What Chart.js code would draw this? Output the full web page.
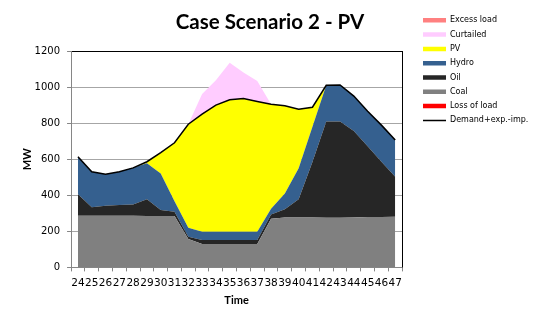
<!DOCTYPE html>
<html>
<head>
<meta charset="utf-8">
<title>Case Scenario 2 - PV</title>
<script src="https://cdn.jsdelivr.net/npm/chart.js@4.4.0/dist/chart.umd.min.js"></script>
<style>
    html, body { margin: 0; padding: 0; background: #fff; }
    #wrap { width: 539px; height: 324px; position: relative; }
</style>
</head>
<body>
<div id="wrap"><canvas id="case_chart"></canvas></div>
<script>
/*
*  Case Scenario 2 - PV : stacked generation areas + demand line
*/

const hours = ['24','25','26','27','28','29','30','31','32','33','34','35',
               '36','37','38','39','40','41','42','43','44','45','46','47'];

// MW per hour
const lossOfLoad = [0,0,0,0,0,0,0,0,0,0,0,0,0,0,0,0,0,0,0,0,0,0,0,0];
const coal      = [286,286,286,286,286,285,285,285,157,130,130,130,130,130,270,277,277,277,276,276,277,279,280,281];
const oil       = [120,47,56,60,63,93,33,24,13,22,22,22,22,22,23,45,101,308,533,533,480,393,306,222];
const hydro     = [207,197,175,184,203,199,203,58,50,46,46,46,46,46,32,88,172,195,201,203,193,194,203,203];
const pv        = [0,0,0,0,0,9,115,324,574,652,702,732,738,722,580,486,327,108,0,0,0,0,0,0];
const curtailed = [0,0,0,0,0,0,0,0,0,112,138,205,145,113,0,0,0,0,0,0,0,0,0,0];
const excessLoad = [0,0,0,0,0,0,0,0,0,0,0,0,0,0,0,0,0,0,0,0,0,0,0,0];
const demand    = [613,530,517,530,552,586,636,691,794,850,900,930,936,920,905,896,877,888,1010,1012,950,866,789,706];

const yTicks = [0, 200, 400, 600, 800, 1000, 1200];

const legendOrder = ['Excess load','Curtailed','PV','Hydro','Oil','Coal','Loss of load','Demand+exp.-imp.'];

const LEGEND_GAP = 14.6;   // white space between plot frame and legend

// widen the legend box on its left side and draw the black right frame of the plot
const frameAndGap = {
    id: 'frameAndGap',
    afterInit(chart) {
        let legend = chart.legend;
        let fitLegend = legend.fit.bind(legend);
        legend.fit = function () { fitLegend(); this.width += LEGEND_GAP; };
    },
    afterLayout(chart) {
        chart.legend.left += LEGEND_GAP;
    },
    afterDatasetsDraw(chart) {
        let area = chart.chartArea;
        let ctx = chart.ctx;
        let x = Math.round(area.right) + 0.5;
        ctx.save();
        ctx.strokeStyle = '#000';
        ctx.lineWidth = 1;
        ctx.beginPath();
        ctx.moveTo(x, area.top);
        ctx.lineTo(x, area.bottom);
        ctx.stroke();
        ctx.restore();
    },
};

function areaSet(label, data, color, fill) {
    return {
        label: label,
        data: data,
        backgroundColor: color,
        borderColor: color,
        borderWidth: 0,
        pointRadius: 0,
        pointHoverRadius: 0,
        pointStyle: 'rect',
        fill: fill,
        tension: 0,
    };
}

function makeChart(canvas) {
    let axisGrey = '#868686';
    let tickFont = { family: 'DejaVu Sans', size: 10 };
    let titleFont = { family: 'Lato', size: 11, weight: 'bold' };
    let chartConfig = {
        type: 'line',
        data: {
            labels: hours,
            datasets: [
                areaSet('Loss of load', lossOfLoad, '#ff0000', 'origin'),
                areaSet('Coal', coal, '#808080', '-1'),
                areaSet('Oil', oil, '#262626', '-1'),
                areaSet('Hydro', hydro, '#35608f', '-1'),
                areaSet('PV', pv, '#ffff00', '-1'),
                areaSet('Curtailed', curtailed, '#ffccff', '-1'),
                areaSet('Excess load', excessLoad, '#ff8080', '-1'),
                {
                    label: 'Demand+exp.-imp.',
                    data: demand,
                    stack: 'demand',
                    borderColor: '#000',
                    backgroundColor: '#000',
                    borderWidth: 1.5,
                    pointRadius: 0,
                    pointHoverRadius: 0,
                    pointStyle: 'line',
                    fill: false,
                    tension: 0,
                    order: -1,
                },
            ],
        },
        options: {
            responsive: true,
            maintainAspectRatio: false,
            animation: false,
            layout: { padding: { top: 10, left: 1.7, right: 0.7, bottom: 13.4 } },
            scales: {
                x: {
                    offset: true,
                    grid: { offset: true, drawOnChartArea: false, tickLength: 4, color: axisGrey },
                    border: { color: axisGrey },
                    ticks: {
                        autoSkip: false, maxRotation: 0, minRotation: 0, padding: 6,
                        font: { family: 'DejaVu Sans', size: 10.5 }, color: '#000',
                    },
                    title: { display: true, text: 'Time', font: titleFont, color: '#000',
                             padding: { top: -2.6, bottom: 4 } },
                },
                y: {
                    stacked: true,
                    min: yTicks[0],
                    max: yTicks[yTicks.length - 1],
                    afterBuildTicks: (scale) => { scale.ticks = yTicks.map(v => ({ value: v })); },
                    grid: {
                        color: (ctx) => (ctx.tick && ctx.tick.value === 1200) ? '#000' : '#a6a6a6',
                        tickColor: axisGrey,
                        tickLength: 4,
                    },
                    border: { color: axisGrey },
                    ticks: { padding: 7, font: tickFont, color: '#000', callback: (v) => String(v) },
                    // chart.js reserves the tick padding twice, the negative bottom gives it back
                    title: { display: true, text: 'MW', font: titleFont, color: '#000',
                             padding: { top: 18.7, bottom: -6 } },
                },
            },
            plugins: {
                title: {
                    display: true,
                    text: 'Case Scenario 2 - PV',
                    color: '#000',
                    font: { family: 'Lato', size: 20.5, weight: 'bold' },
                    padding: { top: 0, bottom: 16.4 },
                },
                legend: {
                    position: 'right',
                    align: 'start',
                    labels: {
                        usePointStyle: true,
                        pointStyleWidth: 23,
                        boxWidth: 23,
                        boxHeight: 4.5,
                        padding: 6.3,
                        color: '#000',
                        font: { family: 'DejaVu Sans', size: 8 },
                        sort: (a, b) => legendOrder.indexOf(a.text) - legendOrder.indexOf(b.text),
                    },
                },
                tooltip: { enabled: false },
            },
        },
        plugins: [frameAndGap],
    };
    return new Chart(canvas, chartConfig);
}

const caseChart = makeChart(document.getElementById('case_chart'));
</script>
</body>
</html>
